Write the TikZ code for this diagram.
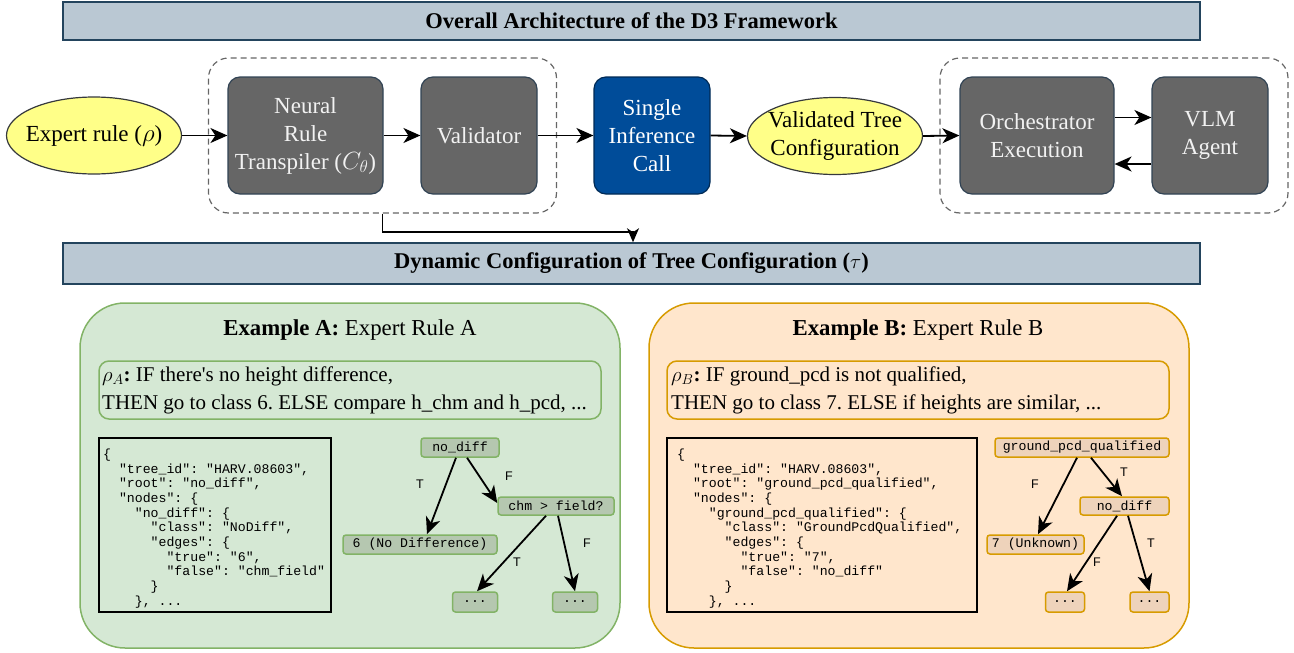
\documentclass[tikz,border=0pt]{standalone}
\usepackage{fontspec}
\setmainfont{Liberation Serif}
\setmonofont{Liberation Mono}
\newfontfamily\lblfont{Liberation Sans}
\usetikzlibrary{arrows.meta,shapes.geometric,calc}
\definecolor{titlefill}{HTML}{BAC8D3}
\definecolor{titlestroke}{HTML}{23445D}
\definecolor{grayfill}{HTML}{666666}
\definecolor{grayedge}{HTML}{314354}
\definecolor{bluefill}{HTML}{004C99}
\definecolor{blueedge}{HTML}{002A55}
\definecolor{yelfill}{HTML}{FFFF88}
\definecolor{yeledge}{HTML}{36393D}
\definecolor{grpedge}{HTML}{666666}
\definecolor{gfill}{HTML}{D5E8D4}
\definecolor{gedge}{HTML}{82B366}
\definecolor{gnode}{HTML}{B5C7B0}
\definecolor{ofill}{HTML}{FFE6CC}
\definecolor{oedge}{HTML}{D79B00}
\definecolor{onode}{HTML}{EED3BB}
\definecolor{boxtext}{HTML}{F2F2F2}
\newcommand\ind[1]{\hspace*{#1\fontcharwd\font`x}}
\frenchspacing
\begin{document}
\begin{tikzpicture}[x=1pt,y=-1pt,
  titlebar/.style={draw=titlestroke, fill=titlefill, line width=1.5pt, minimum width=1137, inner sep=0, font=\fontsize{22.5}{26}\selectfont\bfseries},
  graybox/.style={draw=grayedge, fill=grayfill, rounded corners=12, line width=1.2pt, text=boxtext, font=\fontsize{23}{28}\selectfont, align=center, inner sep=0, minimum height=117},
  bluebox/.style={graybox, draw=blueedge, fill=bluefill, text=white},
  yel/.style={ellipse, draw=yeledge, fill=yelfill, line width=1.2pt, inner sep=0, minimum width=175, minimum height=77},
  yeltxt/.style={font=\fontsize{23}{28}\selectfont, align=center, inner sep=0},
  grp/.style={draw=grpedge, dash pattern=on 6pt off 4pt, rounded corners=20, line width=1.2pt, minimum width=348, minimum height=155, inner sep=0},
  arr/.style={line width=1.8pt, -{Stealth[length=17pt,width=15pt,inset=5pt]}},
  conn/.style={line width=1.3pt, -{Stealth[length=14pt,width=12pt,inset=4pt]}},
  panel/.style={rounded corners=45, line width=1.5pt, minimum width=540, minimum height=345, inner sep=0},
  rulebox/.style={rounded corners=10, line width=1.5pt, minimum height=58, inner sep=0},
  codebox/.style={draw=black, line width=2.2pt, minimum height=174, inner sep=0},
  codetxt/.style={font=\ttfamily\fontsize{13.2}{14.65}\selectfont, align=left, inner sep=0, anchor=west},
  ruletxt/.style={font=\fontsize{21}{28}\selectfont, align=left, inner sep=0, anchor=west},
  extitle/.style={font=\fontsize{22.8}{26}\selectfont, inner sep=0},
  tnode/.style={line width=1.5pt, rounded corners=3, inner sep=0, minimum height=19, font=\ttfamily\fontsize{13.2}{15}\selectfont},
  gtn/.style={tnode, draw=gedge, fill=gnode},
  otn/.style={tnode, draw=oedge, fill=onode},
  tarr/.style={line width=1.8pt, -{Stealth[length=17pt,width=15pt,inset=5pt]}},
  tf/.style={font=\lblfont\fontsize{12.5}{14}\selectfont, inner sep=0}
]
\useasboundingbox (0,0) rectangle (1294,653);

% title bars
\node[titlebar, minimum height=38] (title1) at (631.5,21) {Overall Architecture of the D3 Framework};
\node[titlebar, minimum height=41] (title2) at (631.5,263.5) {Dynamic Configuration of Tree Configuration ($\tau$)};

% dashed groups
\node[grp] (grp1) at (382.5,135.5) {};
\node[grp] (grp2) at (1114,135.5) {};

% top row
\node[yel] (expert) at (94,135.5) {};
\node[yeltxt] (expertlbl) at (expert.center) {Expert rule ($\rho$)};
\node[graybox, minimum width=155] (nrt) at (305.5,135.5) {Neural\\Rule\\Transpiler ($C_\theta$)};
\node[graybox, minimum width=116] (val) at (479,135.5) {Validator};
\node[bluebox, minimum width=116] (sic) at (652,135.5) {Single\\Inference\\Call};
\node[yel] (vtc) at (835,136) {};
\node[yeltxt] (vtclbl) at (vtc.center) {Validated Tree\\Configuration};
\node[graybox, minimum width=154] (orch) at (1037,135.5) {Orchestrator\\Execution};
\node[graybox, minimum width=116] (vlm) at (1210,135.5) {VLM\\Agent};

\draw[arr] (expert.east) -- (nrt.west);
\draw[arr] (nrt.east) -- (val.west);
\draw[arr] (val.east) -- (sic.west);
\draw[arr] (sic.east) -- (vtc.west);
\draw[arr] (vtc.east) -- (orch.west);
\draw[arr] ([yshift=18pt]orch.east) -- ([yshift=18pt]vlm.west);
\draw[arr] ([yshift=-28.5pt]vlm.west) -- ([yshift=-28.5pt]orch.east);

\coordinate (bend) at (633,232);
\draw[conn] (grp1.south) |- (bend) -- (title2.north -| bend);

% panels
\node[panel, draw=gedge, fill=gfill] (panA) at (350,475.5) {};
\node[panel, draw=oedge, fill=ofill] (panB) at (919,475.5) {};

\node[extitle] (exA) at (350,330) {\textbf{Example A:} Expert Rule A};
\node[extitle] (exB) at (918,330) {\textbf{Example B:} Expert Rule B};

\node[rulebox, draw=gedge, fill=gfill, minimum width=502] (ruleA) at (350,390) {};
\node[rulebox, draw=oedge, fill=ofill, minimum width=502] (ruleB) at (918,390) {};
\node[ruletxt] (rtA) at (102,390.5) {$\rho_A$\textbf{:} IF there\textquotesingle s no height difference,\\THEN go to class 6. ELSE compare h\_chm and h\_pcd, ...};
\node[ruletxt] (rtB) at (671,390.5) {$\rho_B$\textbf{:} IF ground\_pcd is not qualified,\\THEN go to class 7. ELSE if heights are similar, ...};

% code boxes
\node[codebox, minimum width=232] (cbA) at (215,525) {};
\node[codebox, minimum width=310] (cbB) at (822,525) {};
\node[codetxt] (ctA) at (103,528.5) {\{\\
\ind{2}"tree\_id": "HARV.08603",\\
\ind{2}"root": "no\_diff",\\
\ind{2}"nodes": \{\\
\ind{4}"no\_diff": \{\\
\ind{6}"class": "NoDiff",\\
\ind{6}"edges": \{\\
\ind{8}"true": "6",\\
\ind{8}"false": "chm\_field"\\
\ind{6}\}\\
\ind{4}\}, ...};
\node[codetxt] (ctB) at (677,528.5) {\{\\
\ind{2}"tree\_id": "HARV.08603",\\
\ind{2}"root": "ground\_pcd\_qualified",\\
\ind{2}"nodes": \{\\
\ind{4}"ground\_pcd\_qualified": \{\\
\ind{6}"class": "GroundPcdQualified",\\
\ind{6}"edges": \{\\
\ind{8}"true": "7",\\
\ind{8}"false": "no\_diff"\\
\ind{6}\}\\
\ind{4}\}, ...};

% tree A
\node[gtn, minimum width=78] (ndA) at (460,447.5) {no\_diff};
\node[gtn, minimum width=116, minimum height=18] (chmA) at (556,506) {chm > field?};
\node[gtn, minimum width=154] (sixA) at (420,544.5) {6 (No Difference)};
\node[gtn, minimum width=45, minimum height=20] (dA1) at (475,602) {...};
\node[gtn, minimum width=45, minimum height=20] (dA2) at (575,602) {...};
\draw[tarr] ([xshift=-4pt]ndA.south) -- ([xshift=7pt]sixA.north);
\draw[tarr] ([xshift=7pt]ndA.south) -- ([yshift=3pt]chmA.west);
\draw[tarr] ([xshift=-10pt]chmA.south) -- ([xshift=2pt]dA1.north);
\draw[tarr] ([xshift=2pt]chmA.south) -- (dA2.north);
\node[tf] (tA1) at (420,484) {T};
\node[tf] (fA1) at (509,476) {F};
\node[tf] (tA2) at (517,562) {T};
\node[tf] (fA2) at (587,543) {F};

% tree B
\node[otn, minimum width=174] (gpq) at (1082,447.5) {ground\_pcd\_qualified};
\node[otn, minimum width=89, minimum height=18] (ndB) at (1124.5,506) {no\_diff};
\node[otn, minimum width=97] (sevB) at (1035.5,544.5) {7 (Unknown)};
\node[otn, minimum width=39, minimum height=20] (dB1) at (1065,602) {...};
\node[otn, minimum width=39, minimum height=20] (dB2) at (1149.5,602) {...};
\draw[tarr] ([xshift=-5pt]gpq.south) -- ([xshift=2.5pt]sevB.north);
\draw[tarr] ([xshift=9pt]gpq.south) -- ([xshift=-2.5pt]ndB.north);
\draw[tarr] ([xshift=-7.5pt]ndB.south) -- ([xshift=2pt]dB1.north);
\draw[tarr] ([xshift=3.5pt]ndB.south) -- (dB2.north);
\node[tf] (fB1) at (1035,484) {F};
\node[tf] (tB1) at (1124,472) {T};
\node[tf] (fB2) at (1097,562) {F};
\node[tf] (tB2) at (1151,543) {T};
\end{tikzpicture}
\end{document}
